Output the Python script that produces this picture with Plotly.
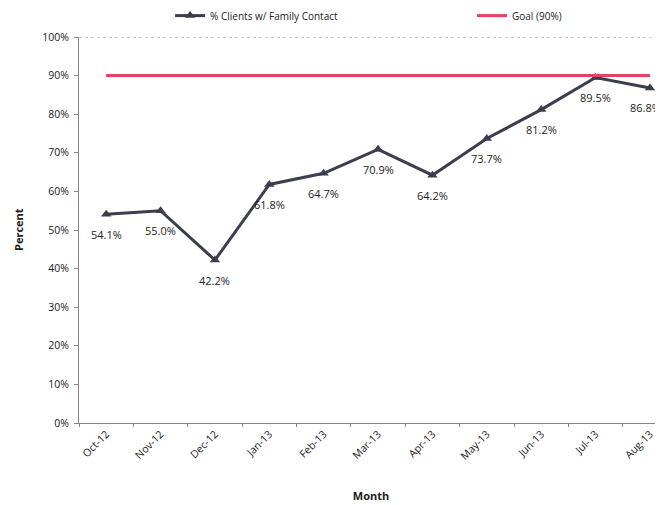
import plotly.graph_objects as go

months = ["Oct-12", "Nov-12", "Dec-12", "Jan-13", "Feb-13", "Mar-13",
          "Apr-13", "May-13", "Jun-13", "Jul-13", "Aug-13"]
pct_contact = [54.1, 55.0, 42.2, 61.8, 64.7, 70.9, 64.2, 73.7, 81.2, 89.5, 86.8]
goal = [90] * len(months)
y_ticks = [0, 10, 20, 30, 40, 50, 60, 70, 80, 90, 100]
y_tick_labels = [f"{v}%" for v in y_ticks]

FONT = "Open Sans"

fig = go.Figure()
fig.add_trace(go.Scatter(
    x=months, y=pct_contact, mode="lines+markers",
    name="% Clients w/ Family Contact", legend="legend",
    line=dict(color="#3b3e4c", width=3),
    marker=dict(symbol="triangle-up", size=9, color="#3b3e4c"),
    cliponaxis=False,
))
fig.add_trace(go.Scatter(
    x=months, y=goal, mode="lines", name="Goal (90%)", legend="legend2",
    line=dict(color="#e8415f", width=3),
))

annotations = [
    dict(x=m, y=v, xref="x", yref="y", text=f"{v:.1f}%", showarrow=False,
         yshift=-20, xshift=(-4 if i == len(months) - 1 else 0),
         font=dict(family=FONT, size=11, color="#222222"))
    for i, (m, v) in enumerate(zip(months, pct_contact))
]
annotations.append(dict(
    x=0, y=0.5, xref="paper", yref="paper", xshift=-61, xanchor="center",
    yanchor="middle", text="<b>Percent</b>", textangle=-90, showarrow=False,
    font=dict(family=FONT, size=11, color="#222222"),
))

leg_common = dict(orientation="h", y=1.093, yanchor="top", yref="paper",
                  xanchor="left", font=dict(size=10), itemwidth=30,
                  bgcolor="rgba(0,0,0,0)")

fig.update_layout(
    width=655, height=497,
    margin=dict(l=71, r=0, t=29, b=82, autoexpand=False),
    paper_bgcolor="white", plot_bgcolor="white",
    font=dict(family=FONT, size=10, color="#222222"),
    showlegend=True,
    legend=dict(x=0.156, **leg_common),
    legend2=dict(x=0.673, **leg_common),
    annotations=annotations,
    xaxis=dict(
        type="category", range=[-0.5, 10.24],
        tickangle=-45, showgrid=False, showline=True, linecolor="#888888",
        ticks="outside", ticklen=3, tickcolor="#888888",
        tickson="boundaries", tickfont=dict(size=10.5),
        title=dict(text="<b>Month</b>", font=dict(size=11), standoff=30),
        zeroline=False,
    ),
    yaxis=dict(
        range=[0, 100], tickvals=y_ticks, ticktext=y_tick_labels,
        showgrid=False, showline=True, linecolor="#888888",
        ticks="outside", ticklen=4, tickcolor="#888888",
        tickfont=dict(size=10.5), ticklabelstandoff=3,
        zeroline=False,
    ),
    shapes=[dict(type="line", xref="paper", yref="y", x0=0, x1=1, y0=100, y1=100,
                 line=dict(color="#999999", width=1, dash="dot"))],
)

fig.write_html("out.html")
